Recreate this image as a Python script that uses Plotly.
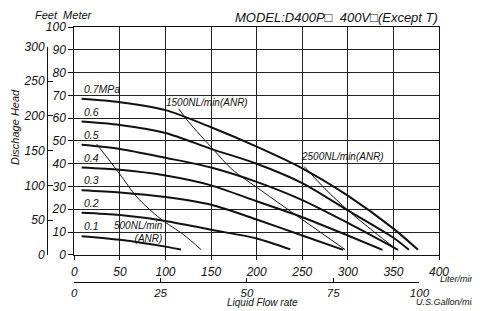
import plotly.graph_objects as go

# ---- data ----
pressure_labels = ["0.1", "0.2", "0.3", "0.4", "0.5", "0.6", "0.7MPa"]
pressure_levels = [10, 20, 30, 40, 50, 60, 70]  # gridline under each label (m)

q_01 = [8, 50, 100, 117]
h_01 = [8.2, 6.6, 3.6, 2.3]
q_02 = [8, 50, 100, 150, 200, 237]
h_02 = [18.5, 17.5, 14.9, 11.0, 7.2, 2.4]
q_03 = [8, 50, 100, 150, 200, 250, 295]
h_03 = [28.4, 27.4, 25.4, 22.0, 15.5, 8.5, 2.2]
q_04 = [8, 50, 100, 150, 200, 250, 300, 338]
h_04 = [38.3, 37.3, 34.8, 30.5, 23.5, 16.5, 8.5, 2.2]
q_05 = [8, 50, 100, 150, 200, 250, 300, 355]
h_05 = [48.3, 46.5, 42.6, 38.3, 32.0, 24.0, 14.0, 2.2]
q_06 = [8, 50, 100, 150, 200, 250, 300, 350, 367]
h_06 = [58.5, 57.0, 53.5, 46.5, 40.0, 31.5, 19.5, 7.5, 2.2]
q_07 = [8, 50, 100, 150, 200, 250, 300, 350, 377]
h_07 = [68.5, 67.0, 63.5, 56.0, 47.5, 38.0, 26.0, 11.5, 2.2]

q_500 = [24.6, 50, 68.5, 94, 120, 139]
h_500 = [48.6, 35.4, 25.4, 16.0, 8.8, 2.3]
q_1500 = [114.5, 125.3, 152.6, 172.8, 204, 250, 297]
h_1500 = [64.1, 58.4, 46.2, 37.6, 28.5, 15.5, 2.3]
q_2500 = [252, 275, 300, 328, 354]
h_2500 = [38.8, 29.0, 19.6, 10.3, 2.2]

liter_ticks = [0, 50, 100, 150, 200, 250, 300, 350, 400]
meter_ticks = [0, 10, 20, 30, 40, 50, 60, 70, 80, 90, 100]
feet_ticks = [0, 50, 100, 150, 200, 250, 300]
gallon_ticks = [0, 25, 50, 75, 100]

air_labels = ["500NL/min<br>(ANR)", "1500NL/min(ANR)", "2500NL/min(ANR)"]
air_label_pos = [(100, 10.2), (146, 67.0), (294, 43.3)]

M_TO_FT = 3.28084
GAL_TO_L = 3.78541

FONT = "Liberation Sans"
INK = "#111111"

fig = go.Figure()

curves = [(q_01, h_01), (q_02, h_02), (q_03, h_03), (q_04, h_04),
          (q_05, h_05), (q_06, h_06), (q_07, h_07)]
for q, h in curves:
    fig.add_trace(go.Scatter(x=q, y=h, mode="lines",
                             line=dict(color=INK, width=2, shape="spline", smoothing=0.8),
                             showlegend=False, hoverinfo="skip"))

for q, h in [(q_500, h_500), (q_1500, h_1500), (q_2500, h_2500)]:
    fig.add_trace(go.Scatter(x=q, y=h, mode="lines",
                             line=dict(color=INK, width=1, shape="spline", smoothing=0.8),
                             showlegend=False, hoverinfo="skip"))

# empty trace so that the secondary (gallon / feet) axes are drawn
fig.add_trace(go.Scatter(x=[None], y=[None], xaxis="x2", yaxis="y2",
                         showlegend=False, hoverinfo="skip"))

# the page body has an 8px margin: draw in a slightly smaller figure
OFF = 8
W, H = 480 - OFF, 311 - OFF
ML, MT = 40 - OFF, 25 - OFF
MR = W - (439 - OFF)
MB = H - (285 - OFF)
plot_w = W - ML - MR
plot_h = H - MT - MB


def px_x(px):
    return (px - OFF - ML) / plot_w


def px_y(py):
    return (H - MB - (py - OFF)) / plot_h


xdom0 = px_x(74.3)
ydom0 = px_y(257.3)

max_l = liter_ticks[-1]
max_m = meter_ticks[-1]
gal_end = gallon_ticks[-1]
ft_end = feet_ticks[-1]

tickfont = dict(family=FONT, size=12, color=INK, style="italic")
galfont = dict(family=FONT, size=11.5, color=INK, style="italic")

fig.update_layout(
    width=W, height=H,
    margin=dict(l=ML, r=MR, t=MT, b=MB, pad=0),
    paper_bgcolor="white", plot_bgcolor="rgba(0,0,0,0)",
    xaxis=dict(domain=[xdom0, 1], range=[0, max_l], tickvals=liter_ticks,
               showgrid=True, gridcolor="#222222", gridwidth=1,
               showline=True, linecolor=INK, linewidth=1, mirror=True,
               ticks="outside", ticklen=4, tickcolor=INK, tickfont=tickfont,
               ticklabelstandoff=2,
               zeroline=False, fixedrange=True, anchor="y"),
    yaxis=dict(domain=[ydom0, 1], range=[0, max_m], tickvals=meter_ticks,
               showgrid=True, gridcolor="#222222", gridwidth=1,
               showline=True, linecolor=INK, linewidth=1, mirror=True,
               ticks="outside", ticklen=5, tickcolor=INK, tickfont=tickfont,
               zeroline=False, fixedrange=True, anchor="x"),
    xaxis2=dict(domain=[xdom0, xdom0 + (1 - xdom0) * (gal_end * GAL_TO_L / max_l)],
                range=[0, gal_end], tickvals=gallon_ticks,
                anchor="free", position=0, showgrid=False, zeroline=False,
                showline=True, linecolor=INK, linewidth=1,
                ticks="inside", ticklen=4, tickcolor=INK, tickfont=galfont,
                fixedrange=True),
    yaxis2=dict(domain=[ydom0, ydom0 + (1 - ydom0) * (ft_end / M_TO_FT / max_m)],
                range=[0, ft_end], tickvals=feet_ticks,
                anchor="free", position=px_x(47), side="left",
                showgrid=False, zeroline=False,
                showline=True, linecolor=INK, linewidth=1,
                ticks="inside", ticklen=5, tickcolor=INK, tickfont=tickfont,
                fixedrange=True),
)

ann = []
for lab, lev in zip(pressure_labels, pressure_levels):
    ann.append(dict(x=8, y=lev, xref="x", yref="y", text=lab, showarrow=False,
                    xanchor="left", yanchor="bottom", yshift=-2,
                    font=dict(family=FONT, size=10.5, color=INK, style="italic")))
for lab, (lx, ly) in zip(air_labels, air_label_pos):
    ann.append(dict(x=lx, y=ly, xref="x", yref="y", text=lab, showarrow=False,
                    xanchor="right" if "<br>" in lab else "center", yanchor="middle",
                    align="right",
                    font=dict(family=FONT, size=10, color=INK, style="italic")))

ann += [
    dict(x=px_x(440), y=px_y(15), xref="paper", yref="paper",
         text="MODEL:D400P\u25a1  400V\u25a1(Except T)", showarrow=False,
         xanchor="right", yanchor="middle",
         font=dict(family=FONT, size=13, color=INK, style="italic")),
    dict(x=px_x(33), y=px_y(13), xref="paper", yref="paper",
         text="Feet  Meter", showarrow=False, xanchor="left", yanchor="middle",
         font=dict(family=FONT, size=11, color=INK, style="italic")),
    dict(x=px_x(15), y=px_y(127), xref="paper", yref="paper",
         text="Dischage Head", showarrow=False, textangle=-90,
         xanchor="center", yanchor="middle",
         font=dict(family=FONT, size=11, color=INK, style="italic")),
    dict(x=px_x(438), y=px_y(282), xref="paper", yref="paper",
         text="Liter/min", showarrow=False, xanchor="left", yanchor="middle",
         font=dict(family=FONT, size=9, color=INK, style="italic")),
    dict(x=px_x(262), y=px_y(305.5), xref="paper", yref="paper",
         text="Liquid Flow rate", showarrow=False, xanchor="center", yanchor="middle",
         font=dict(family=FONT, size=10, color=INK, style="italic")),
    dict(x=px_x(414), y=px_y(305.5), xref="paper", yref="paper",
         text="U.S.Gallon/min", showarrow=False, xanchor="left", yanchor="middle",
         font=dict(family=FONT, size=9, color=INK, style="italic")),
]
fig.update_layout(annotations=ann)

fig.write_html("out.html")
